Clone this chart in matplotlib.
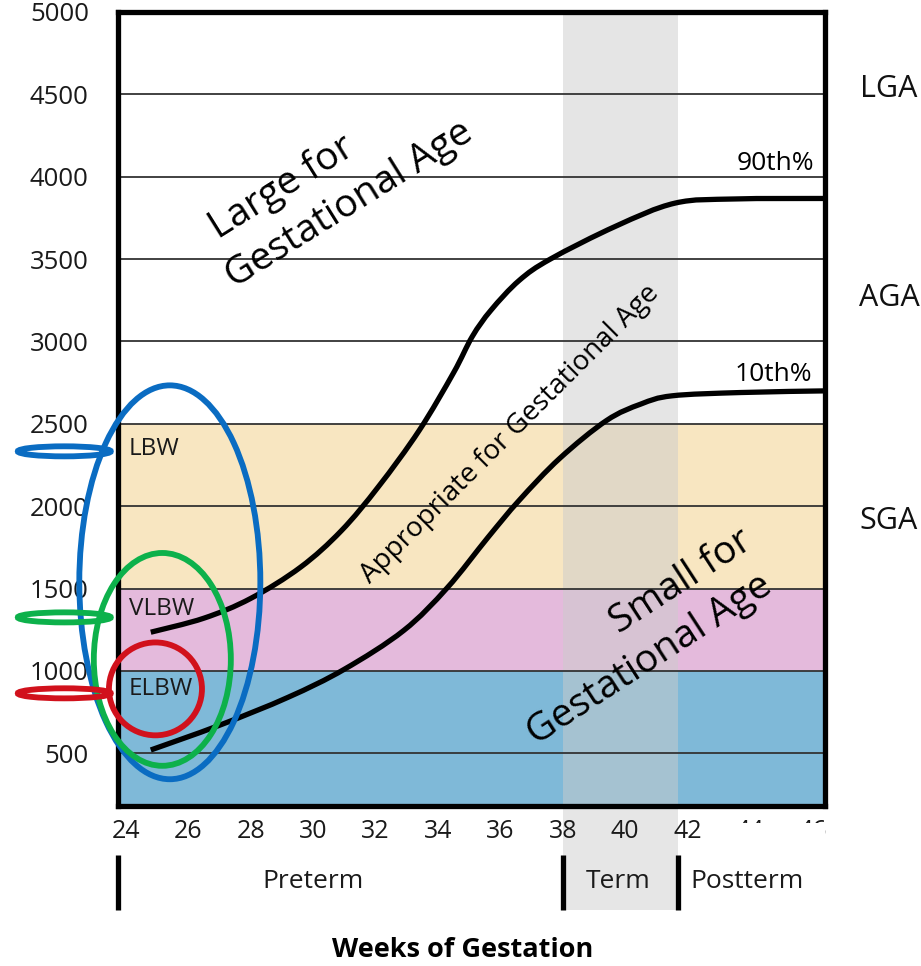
import matplotlib
matplotlib.use("Agg")
import matplotlib.pyplot as plt
from matplotlib.patches import Ellipse, Rectangle, PathPatch
from matplotlib.path import Path
import matplotlib.transforms as mtransforms

plt.rcParams['font.family'] = ['Open Sans', 'DejaVu Sans']

# ---------------- data ----------------
weeks_ticks = [24, 26, 28, 30, 32, 34, 36, 38, 40, 42, 44, 46]
weight_ticks = [500, 1000, 1500, 2000, 2500, 3000, 3500, 4000, 4500, 5000]

weeks_90 = [24.8, 26.5, 28.0, 29.6, 30.9, 32.1, 33.4, 34.5, 35.1, 35.7, 36.6, 37.6, 39.7, 41.6, 43.5, 46.4]
w_90 = [1235, 1320, 1440, 1630, 1850, 2120, 2460, 2810, 3030, 3190, 3370, 3500, 3700, 3840, 3865, 3868]

weeks_10 = [24.8, 27.0, 29.2, 31.0, 32.9, 34.3, 35.6, 36.6, 37.9, 39.4, 40.5, 41.5, 43.7, 46.4]
w_10 = [520, 670, 840, 1010, 1245, 1505, 1810, 2035, 2290, 2520, 2620, 2670, 2690, 2700]

# weight bands (lower, upper)
band_elbw = (0, 1000)
band_vlbw = (1000, 1500)
band_lbw = (1500, 2500)
term_weeks = (38.0, 41.7)

period_labels = ["Preterm", "Term", "Postterm"]
size_labels = ["LGA", "AGA", "SGA"]
bw_labels = ["LBW", "VLBW", "ELBW"]


def smooth_path(xs, ys):
    """Catmull-Rom curve through the given points, as cubic Bezier path."""
    pts = list(zip(xs, ys))
    verts = [pts[0]]
    codes = [Path.MOVETO]
    n = len(pts)
    for i in range(n - 1):
        p0 = pts[i - 1] if i > 0 else pts[i]
        p1 = pts[i]
        p2 = pts[i + 1]
        p3 = pts[i + 2] if i + 2 < n else pts[i + 1]
        c1 = (p1[0] + (p2[0] - p0[0]) / 6.0, p1[1] + (p2[1] - p0[1]) / 6.0)
        c2 = (p2[0] - (p3[0] - p1[0]) / 6.0, p2[1] - (p3[1] - p1[1]) / 6.0)
        verts += [c1, c2, p2]
        codes += [Path.CURVE4, Path.CURVE4, Path.CURVE4]
    return Path(verts, codes)


# ---------------- figure ----------------
W, H = 921, 966
fig = plt.figure(figsize=(W / 100, H / 100), dpi=100)
ax = fig.add_axes([118 / W, 1 - 806 / H, (825 - 118) / W, (806 - 12) / H])
ax.set_xlim(23.75, 46.4)
ax.set_ylim(180, 5000)

ax.axhspan(band_elbw[0], band_elbw[1], color='#7fb9d8', lw=0, zorder=0.5)
ax.axhspan(band_vlbw[0], band_vlbw[1], color='#e4badc', lw=0, zorder=0.5)
ax.axhspan(band_lbw[0], band_lbw[1], color='#f8e6c1', lw=0, zorder=0.5)
ax.axvspan(term_weeks[0], term_weeks[1], color='#cccccc', alpha=0.5, lw=0, zorder=0.8)

ax.set_yticks(weight_ticks)
ax.set_xticks(weeks_ticks)
ax.set_yticklabels([str(v) for v in weight_ticks])
ax.set_xticklabels([str(v) for v in weeks_ticks])
ax.tick_params(axis='y', length=0, pad=21, labelsize=18.5, labelcolor='#1a1a1a')
ax.tick_params(axis='x', length=0, pad=9, labelsize=18, labelcolor='#1a1a1a')
ax.grid(axis='y', color='#333333', lw=1.3)
for s in ax.spines.values():
    s.set_linewidth(3.8)
    s.set_color('black')
    s.set_zorder(6)

for xs, ys in [(weeks_90, w_90), (weeks_10, w_10)]:
    ax.add_patch(PathPatch(smooth_path(xs, ys), facecolor='none', edgecolor='black',
                           lw=3.8, capstyle='butt', zorder=4))

# percentile labels
ax.text(46.05, 4040, "90th%", fontsize=19, ha='right', va='baseline', zorder=5)
ax.text(46.0, 2760, "10th%", fontsize=19, ha='right', va='baseline', zorder=5)

# region labels
ax.text(26.97, 3621, "Large for", fontsize=28, rotation=32, rotation_mode='anchor',
        ha='left', va='baseline', zorder=5)
ax.text(27.48, 3324, "Gestational Age", fontsize=28, rotation=32, rotation_mode='anchor',
        ha='left', va='baseline', zorder=5)
ax.text(31.81, 1530, "Appropriate for Gestational Age", fontsize=20, rotation=45,
        rotation_mode='anchor', ha='left', va='baseline', zorder=5)
ax.text(39.81, 1227, "Small for", fontsize=28, rotation=33, rotation_mode='anchor',
        ha='left', va='baseline', zorder=5)
ax.text(37.16, 548, "Gestational Age", fontsize=28, rotation=33, rotation_mode='anchor',
        ha='left', va='baseline', zorder=5)

# birth weight labels
for lab, yv in zip(bw_labels, [2348, 1373, 888]):
    ax.text(24.1, yv, lab, fontsize=17.5, ha='left', va='center', color='#1a1a1a', zorder=5)

# right side labels
for lab, yv in zip(size_labels, [4530, 3263, 1912]):
    ax.text(48.45, yv, lab, fontsize=22, ha='center', va='center', color='#111111', clip_on=False)

# bottom period markers
trans = mtransforms.blended_transform_factory(ax.transData, ax.transAxes)
ax.add_patch(Rectangle((term_weeks[0], -0.131), term_weeks[1] - term_weeks[0], 0.131,
                       transform=trans, facecolor='#e6e6e6', edgecolor='none',
                       clip_on=False, zorder=0.1))
# white box over the 44/46 labels (as in reference)
ax.add_patch(Rectangle((705 / W, 1 - 915 / H), (825 - 705) / W, (915 - 823) / H,
                       transform=fig.transFigure, facecolor='white', edgecolor='none',
                       clip_on=False, zorder=5))
for xb in [23.75, term_weeks[0], term_weeks[1]]:
    ax.plot([xb, xb], [-0.0617, -0.131], transform=trans, color='black', lw=3.8,
            solid_capstyle='butt', clip_on=False, zorder=6)
for lab, xv in zip(period_labels, [30.0, 39.77, 43.9]):
    ax.text(xv, -0.0957, lab, transform=trans, fontsize=19, ha='center', va='center',
            color='#1a1a1a', clip_on=False, zorder=7)
ax.text(34.8, -0.181, "Weeks of Gestation", transform=trans, fontsize=19.5, fontweight='bold',
        ha='center', va='center', clip_on=False, zorder=7)

# annotation ellipses (center week, center weight, width weeks, height grams, colour)
ellipses = [
    (25.41, 1538, 5.8, 2391, '#0a6cc2'),
    (22.03, 2333, 2.98, 61, '#0a6cc2'),
    (25.17, 1070, 4.39, 1292, '#0db14b'),
    (22.03, 1325, 2.98, 61, '#0db14b'),
    (24.95, 891, 2.98, 564, '#d1111c'),
    (22.03, 864, 2.98, 61, '#d1111c'),
]
for cx, cy, ew, eh, col in ellipses:
    ax.add_patch(Ellipse((cx, cy), ew, eh, facecolor='none', edgecolor=col, lw=4.2,
                         clip_on=False, zorder=8))

fig.savefig("out.png", dpi=100)
